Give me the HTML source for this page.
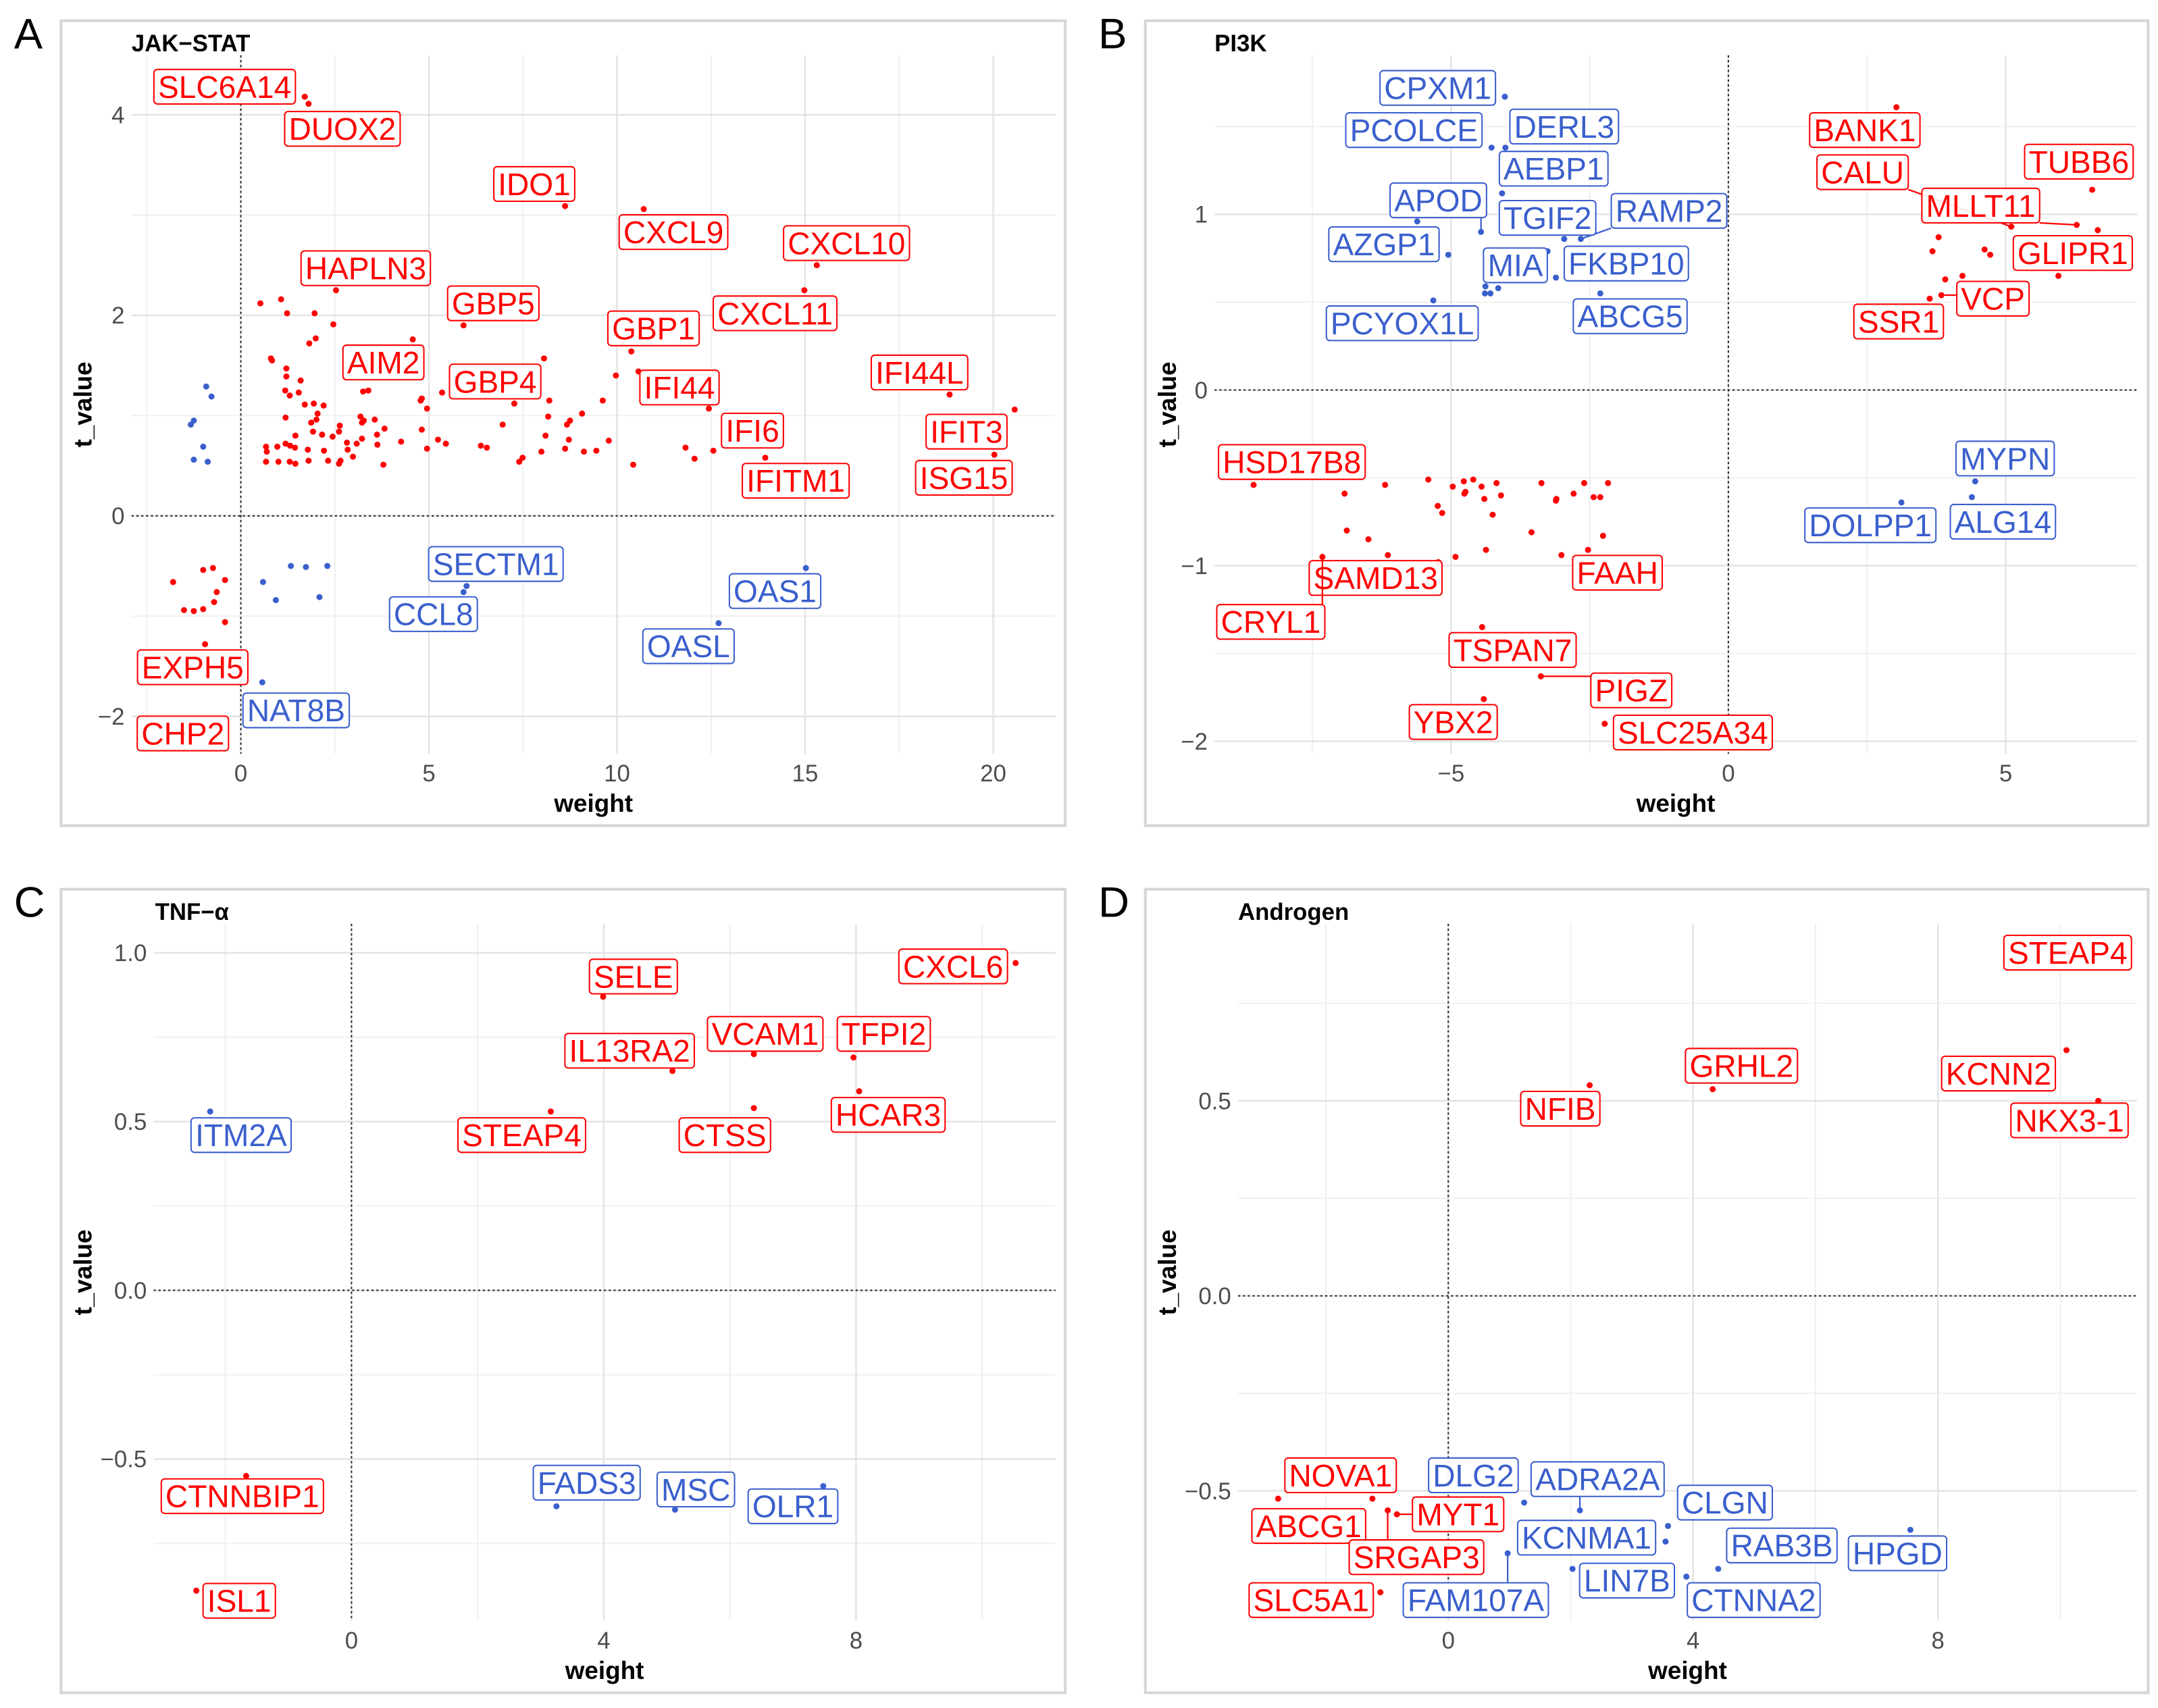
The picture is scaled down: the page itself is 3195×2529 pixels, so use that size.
<!DOCTYPE html>
<html><head><meta charset="utf-8"><style>
html,body{margin:0;padding:0;background:#fff}
svg{display:block}
text{font-family:"Liberation Sans",Arial,sans-serif}
</style></head><body>
<svg id="fig" width="3195" height="2529" viewBox="0 0 1560 1235" xmlns="http://www.w3.org/2000/svg"></svg>
<script>
// ---------- Panel A: JAK-STAT ----------
const A_genes=["SLC6A14","DUOX2","IDO1","CXCL9","CXCL10","CXCL11","HAPLN3","GBP5","GBP1","AIM2","GBP4","IFI44","IFI44L","IFIT3","IFI6","ISG15","IFITM1","SECTM1","CCL8","OAS1","OASL","EXPH5","NAT8B","CHP2"];
const A_w=[1.70,1.80,8.62,10.71,15.31,14.98,2.53,5.92,10.38,4.57,7.27,12.44,18.84,20.57,12.56,20.03,13.94,6.0,5.92,15.02,12.70,-0.95,0.57,-1.54];
const A_t=[4.18,4.11,3.09,3.06,2.50,2.25,2.25,1.90,1.64,1.76,1.12,1.07,1.21,1.06,0.65,0.61,0.58,-0.70,-0.76,-0.52,-1.07,-1.28,-1.66,-2.17];
const A_lw=[-0.43,2.70,7.8,11.5,16.1,14.2,3.32,6.71,10.97,3.79,6.76,11.66,18.04,19.29,13.6,19.22,14.75,6.78,5.12,14.2,11.9,-1.28,1.47,-1.54];
const A_lt=[4.28,3.86,3.31,2.83,2.72,2.02,2.47,2.12,1.87,1.53,1.34,1.28,1.43,0.84,0.85,0.38,0.35,-0.48,-0.98,-0.75,-1.30,-1.51,-1.94,-2.17];
const A_bgW=[0.52,1.07,1.23,1.96,2.46,1.99,1.82,0.80,0.83,1.21,1.21,1.59,1.18,1.30,1.54,1.70,1.94,2.20,1.19,1.87,2.01,2.04,1.92,1.45,1.19,0.67,0.97,1.31,1.44,0.69,1.78,2.21,0.67,1.00,1.30,1.45,1.80,2.32,2.65,2.61,2.98,2.84,2.82,2.16,2.44,2.61,2.63,3.18,3.22,3.27,3.56,3.82,3.62,3.22,3.08,3.63,4.26,3.25,3.39,4.81,4.78,4.95,5.35,4.81,4.95,5.24,5.45,3.79,6.38,6.54,6.96,7.40,7.49,8.06,8.20,8.17,8.10,7.99,8.62,8.67,8.75,8.72,9.07,9.12,9.45,9.62,9.78,9.97,10.43,10.57,11.82,12.06,
-0.92,-0.78,-1.25,-1.33,-1.00,-1.25,-0.88,
-1.80,-1.00,-0.74,-0.42,-0.64,-0.71,-1.51,-1.25,-1.00,-0.42,
0.59,0.93,1.33,1.73,2.30,2.09];
const A_bgT=[2.12,2.16,2.02,2.02,1.91,1.77,1.72,1.57,1.55,1.47,1.39,1.35,1.25,1.20,1.23,1.11,1.12,1.10,0.98,0.93,0.96,1.02,0.84,0.80,0.72,0.69,0.69,0.70,0.68,0.64,0.66,0.65,0.54,0.54,0.54,0.52,0.55,0.55,0.55,0.52,0.59,0.66,0.73,0.81,0.79,0.84,0.90,0.99,0.93,0.95,0.96,0.87,0.81,0.77,0.72,0.71,0.74,1.24,1.25,1.17,1.15,1.07,1.23,0.86,0.67,0.76,0.72,0.51,0.70,0.68,0.91,0.54,0.58,1.57,1.15,0.99,0.80,0.64,0.67,0.91,0.95,0.76,1.02,0.64,0.65,1.15,0.75,1.40,0.51,1.44,0.68,0.57,
1.29,1.19,0.95,0.91,0.69,0.56,0.54,
-0.66,-0.54,-0.52,-0.64,-0.76,-0.86,-0.94,-0.95,-0.93,-1.06,
-0.66,-0.84,-0.50,-0.51,-0.50,-0.81];

// ---------- Panel B: PI3K ----------
const B_genes=["CPXM1","PCOLCE","DERL3","AEBP1","RAMP2","TGIF2","APOD","AZGP1","MIA","FKBP10","ABCG5","PCYOX1L","BANK1","CALU","MLLT11","TUBB6","GLIPR1","VCP","SSR1","MYPN","DOLPP1","ALG14","HSD17B8","SAMD13","CRYL1","FAAH","TSPAN7","PIGZ","YBX2","SLC25A34"];
const B_w=[-4.03,-4.27,-4.02,-4.08,-2.66,-2.96,-4.46,-5.05,-3.26,-3.11,-2.31,-5.32,3.03,5.10,6.28,6.56,6.66,3.84,3.63,4.45,3.12,4.39,-8.56,-5.23,-7.32,-2.53,-4.44,-3.38,-4.41,-2.23];
const B_t=[1.67,1.38,1.38,1.12,0.86,0.86,0.90,0.77,0.79,0.64,0.55,0.51,1.61,0.93,0.94,1.14,0.91,0.54,0.52,-0.52,-0.64,-0.61,-0.54,-0.98,-0.95,-0.91,-1.35,-1.63,-1.76,-1.90];
const B_lw=[-5.24,-5.67,-2.96,-3.15,-1.07,-3.26,-5.23,-6.21,-3.84,-1.84,-1.77,-5.88,2.46,2.42,4.55,6.32,6.21,4.77,3.07,4.99,2.56,4.95,-7.87,-6.36,-8.25,-2.0,-3.89,-1.75,-4.96,-0.64];
const B_lt=[1.72,1.48,1.50,1.26,1.02,0.98,1.08,0.83,0.71,0.72,0.42,0.38,1.48,1.24,1.05,1.30,0.78,0.52,0.39,-0.39,-0.77,-0.75,-0.41,-1.07,-1.32,-1.04,-1.48,-1.71,-1.89,-1.95];
const B_bgW=[-5.61,-4.38,-4.29,-4.15,-4.39,
3.79,3.68,4.62,4.72,4.22,3.91,5.95,
-6.92,-6.19,-5.41,-4.97,-4.77,-4.60,-4.45,-4.18,-4.74,-4.76,-4.40,-4.10,-5.24,-5.16,-4.25,-3.37,-3.10,-3.11,-2.79,-2.60,-2.43,-2.31,-2.17,-6.88,-6.49,-6.14,-4.92,-4.37,-3.55,-3.01,-2.26];
const B_bgT=[0.96,0.59,0.55,0.58,0.55,
0.87,0.79,0.80,0.77,0.65,0.63,0.65,
-0.59,-0.54,-0.51,-0.55,-0.52,-0.51,-0.55,-0.53,-0.58,-0.59,-0.62,-0.60,-0.66,-0.70,-0.71,-0.53,-0.62,-0.63,-0.59,-0.53,-0.61,-0.61,-0.53,-0.80,-0.85,-0.94,-0.95,-0.91,-0.81,-0.94,-0.83];

// ---------- Panel C: TNF-alpha ----------
const C_genes=["CXCL6","SELE","VCAM1","TFPI2","IL13RA2","HCAR3","CTSS","STEAP4","ITM2A","CTNNBIP1","ISL1","FADS3","MSC","OLR1"];
const C_w=[10.53,3.99,6.38,7.96,5.09,8.05,6.38,3.16,-2.24,-1.67,-2.46,3.25,5.13,7.48];
const C_t=[0.97,0.87,0.70,0.69,0.65,0.59,0.54,0.53,0.53,-0.55,-0.89,-0.64,-0.65,-0.58];
const C_lw=[9.54,4.47,6.56,8.44,4.41,8.51,5.92,2.70,-1.75,-1.73,-1.78,3.73,5.46,7.0];
const C_lt=[0.96,0.93,0.76,0.76,0.71,0.52,0.46,0.46,0.46,-0.61,-0.92,-0.57,-0.59,-0.64];

// ---------- Panel D: Androgen ----------
const D_genes=["STEAP4","KCNN2","NKX3-1","GRHL2","NFIB","HPGD","RAB3B","CTNNA2","CLGN","KCNMA1","LIN7B","ADRA2A","DLG2","FAM107A","NOVA1","ABCG1","MYT1","SRGAP3","SLC5A1"];
const D_w=[10.12,10.10,10.62,4.32,2.31,7.55,4.41,3.89,3.59,3.55,2.03,2.15,1.24,0.97,-1.24,-2.78,-0.84,-0.99,-1.11];
const D_t=[0.88,0.63,0.50,0.53,0.54,-0.60,-0.70,-0.72,-0.59,-0.63,-0.70,-0.55,-0.53,-0.66,-0.52,-0.52,-0.56,-0.55,-0.76];
const D_lw=[10.12,8.99,10.15,4.79,1.83,7.34,5.45,4.99,4.52,2.26,2.92,2.44,0.41,0.45,-1.76,-2.28,0.16,-0.52,-2.24];
const D_lt=[0.88,0.57,0.45,0.59,0.48,-0.66,-0.64,-0.78,-0.53,-0.62,-0.73,-0.47,-0.46,-0.78,-0.46,-0.59,-0.56,-0.67,-0.78];

const A_xticks=[0,5,10,15,20], A_yticks=[-2,0,2,4], A_ylab=["\u22122","0","2","4"], A_xlab=["0","5","10","15","20"];
const B_xticks=[-5,0,5], B_yticks=[-2,-1,0,1], B_ylab=["\u22122","\u22121","0","1"], B_xlab=["\u22125","0","5"];
const C_xticks=[0,4,8], C_yticks=[-0.5,0,0.5,1.0], C_ylab=["\u22120.5","0.0","0.5","1.0"], C_xlab=["0","4","8"];
const D_xticks=[0,4,8], D_yticks=[-0.5,0,0.5], D_ylab=["\u22120.5","0.0","0.5"], D_xlab=["0","4","8"];

const NS="http://www.w3.org/2000/svg";
const svg=document.getElementById('fig');
const RED="#ff0000", BLUE="#3a5fcd";
function mk(tag,attrs,parent){const e=document.createElementNS(NS,tag);for(const k in attrs)e.setAttribute(k,attrs[k]);(parent||svg).appendChild(e);return e;}

function panel(cfg){
  const g=mk('g',{});
  
  
  const X=w=>cfg.x0+cfg.sx*w, Y=t=>cfg.y0-cfg.sy*t;
  const L=cfg.L,R=cfg.R,T=cfg.T,Bt=cfg.B;
  const border=mk('rect',{x:cfg.bx,y:cfg.by,width:cfg.bw,height:cfg.bh,fill:'none',stroke:'#d6d6d6','stroke-width':2},g);
  
  
  cfg.xminor.forEach(v=>mk('line',{x1:X(v),x2:X(v),y1:T,y2:Bt,stroke:'#f0f0f0','stroke-width':1},g));
  cfg.yminor.forEach(v=>mk('line',{x1:L,x2:R,y1:Y(v),y2:Y(v),stroke:'#f0f0f0','stroke-width':1},g));
  cfg.xt.forEach((v,i)=>{
    mk('line',{x1:X(v),x2:X(v),y1:T,y2:Bt,stroke:'#e3e3e3','stroke-width':1.2},g);
    const t=mk('text',{x:X(v),y:Bt+20,'font-size':17,fill:'#4d4d4d','text-anchor':'middle'},g);t.textContent=cfg.xl[i];
    
    
  });
  cfg.yt.forEach((v,i)=>{
    mk('line',{x1:L,x2:R,y1:Y(v),y2:Y(v),stroke:'#e3e3e3','stroke-width':1.2},g);
    const t=mk('text',{x:L-5,y:Y(v)+6,'font-size':17,fill:'#4d4d4d','text-anchor':'end'},g);t.textContent=cfg.yl[i];
    
    
  });
  mk('line',{x1:X(0),x2:X(0),y1:T,y2:Bt,stroke:'#222','stroke-width':1,'stroke-dasharray':'1.5,2'},g);
  mk('line',{x1:L,x2:R,y1:Y(0),y2:Y(0),stroke:'#222','stroke-width':1,'stroke-dasharray':'1.5,2'},g);
  const xt=mk('text',{x:(L+R)/2,y:cfg.by+cfg.bh-10,'font-size':18,'font-weight':'bold','text-anchor':'middle',fill:'#000'},g);xt.textContent='weight';
  
  
  const yx=cfg.bx+22, yy=(T+Bt)/2;
  const yt=mk('text',{x:yx,y:yy,'font-size':18,'font-weight':'bold','text-anchor':'middle',fill:'#000',transform:`rotate(-90 ${yx} ${yy})`},g);yt.textContent='t_value';
  
  
  const tt=mk('text',{x:cfg.titleX,y:cfg.by+22,'font-size':17,'font-weight':'bold',fill:'#000'},g);tt.textContent=cfg.title;
  
  
  const lt=mk('text',{x:cfg.bx-34,y:cfg.by+20,'font-size':31,fill:'#000'},g);lt.textContent=cfg.letter;
  
  
  const col=(w,t)=>(w*t>0?RED:BLUE);
  (cfg.bgW||[]).forEach((w,i)=>{
    const t=cfg.bgT[i];
    const c=mk('circle',{cx:X(w),cy:Y(t),r:2.2,fill:col(w,t)},g);
    
    
  });
  cfg.genes.forEach((name,i)=>{
    const w=cfg.w[i],t=cfg.t[i],c=col(w,t);
    const px=X(w),py=Y(t),lx=X(cfg.lw[i]),ly=Y(cfg.lt[i]);
    const lg=mk('g',{},g);
    
    
    const seg=mk('line',{x1:px,y1:py,x2:px,y2:py,stroke:c,'stroke-width':1.1},lg);
    const dot=mk('circle',{cx:px,cy:py,r:2.2,fill:c},lg);
    
    
    const rect=mk('rect',{rx:2.5,ry:2.5,fill:'rgba(255,255,255,0.9)',stroke:c,'stroke-width':1},lg);
    const tx=mk('text',{x:lx,y:ly+8,'font-size':22.5,fill:c,'text-anchor':'middle'},lg);
    tx.textContent=name;
    const bb=tx.getBBox();
    const bw=bb.width+6,bh=25,rx=lx-bw/2,ry=ly-bh/2;
    rect.setAttribute('x',rx);rect.setAttribute('y',ry);rect.setAttribute('width',bw);rect.setAttribute('height',bh);
    const nx=Math.max(rx,Math.min(px,rx+bw)),ny=Math.max(ry,Math.min(py,ry+bh));
    if(Math.hypot(nx-px,ny-py)>10){seg.setAttribute('x2',nx);seg.setAttribute('y2',ny);}
  });
}

panel({key:'jak-stat',title:'JAK\u2212STAT',letter:'A',titleX:95,bx:44,by:15,bw:726,bh:582,L:95,R:763,T:40,B:545,
  x0:174,sx:27.2,y0:373,sy:72.5,xt:A_xticks,xl:A_xlab,yt:A_yticks,yl:A_ylab,xminor:[-2.5,2.5,7.5,12.5,17.5],yminor:[-1,1,3],
  genes:A_genes,w:A_w,t:A_t,lw:A_lw,lt:A_lt,bgW:A_bgW,bgT:A_bgT});
panel({key:'pi3k',title:'PI3K',letter:'B',titleX:878,bx:828,by:15,bw:725,bh:582,L:878,R:1545,T:40,B:545,
  x0:1249.5,sx:40.1,y0:282,sy:127,xt:B_xticks,xl:B_xlab,yt:B_yticks,yl:B_ylab,xminor:[-7.5,-2.5,2.5],yminor:[-1.5,-0.5,0.5,1.5],
  genes:B_genes,w:B_w,t:B_t,lw:B_lw,lt:B_lt,bgW:B_bgW,bgT:B_bgT});
panel({key:'tnf-alpha',title:'TNF\u2212\u03b1',letter:'C',titleX:112,bx:44,by:643,bw:726,bh:581,L:111,R:763,T:668,B:1172,
  x0:254,sx:45.6,y0:933,sy:244,xt:C_xticks,xl:C_xlab,yt:C_yticks,yl:C_ylab,xminor:[-2,2,6,10],yminor:[-0.75,-0.25,0.25,0.75],
  genes:C_genes,w:C_w,t:C_t,lw:C_lw,lt:C_lt});
panel({key:'androgen',title:'Androgen',letter:'D',titleX:895,bx:828,by:643,bw:725,bh:581,L:895,R:1545,T:668,B:1172,
  x0:1047,sx:44.25,y0:937,sy:282,xt:D_xticks,xl:D_xlab,yt:D_yticks,yl:D_ylab,xminor:[-2,2,6,10],yminor:[-0.25,0.25,0.75],
  genes:D_genes,w:D_w,t:D_t,lw:D_lw,lt:D_lt});
</script>
</body></html>
